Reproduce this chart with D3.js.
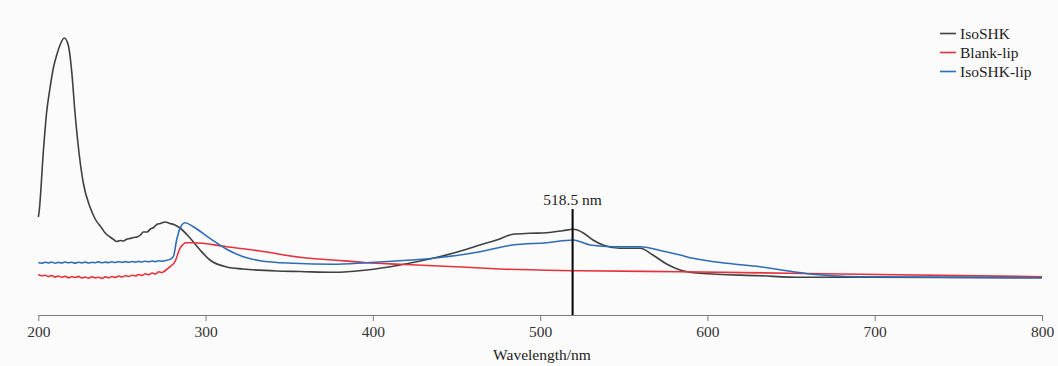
<!DOCTYPE html>
<html>
<head>
<meta charset="utf-8">
<script src="https://cdn.jsdelivr.net/npm/d3@7"></script>
<style>
  body { margin: 0; background: #fbfbfb; }
</style>
</head>
<body>
<svg width="1058" height="366"></svg>
<script>
const svg = d3.select('svg');
const serif = '"Liberation Serif", "Times New Roman", "DejaVu Serif", serif';

// wavelength (nm) / absorbance
const isoWl = [200, 200.4, 203, 205, 207, 209, 211, 213, 215.5, 217.9, 220, 221.9, 224.5, 226.9, 230.9, 234, 237.9, 240, 242.9, 245, 246.9, 249, 251, 252.5, 254.8, 257, 259, 261, 262.8, 265, 267, 269, 270.8, 273, 275.7, 278.7, 281, 284.7, 290.7, 296.7, 302.6, 312.6, 322.4, 342.5, 356.4, 376.2, 396.3, 416.2, 435.9, 456.1, 464, 474, 483.7, 493.9, 503.9, 513.6, 519.8, 525.6, 531.6, 537.5, 547.7, 559.7, 567.4, 575.6, 583.6, 595.5, 631.4, 655.3, 691.2, 800];
const isoAbs = [0.98, 1.02, 1.63, 2.03, 2.27, 2.47, 2.60, 2.70, 2.77, 2.70, 2.43, 2.03, 1.60, 1.32, 1.08, 0.96, 0.87, 0.82, 0.78, 0.755, 0.735, 0.745, 0.74, 0.755, 0.765, 0.775, 0.78, 0.80, 0.83, 0.83, 0.86, 0.875, 0.905, 0.915, 0.93, 0.915, 0.905, 0.87, 0.77, 0.65, 0.55, 0.48, 0.46, 0.44, 0.435, 0.427, 0.45, 0.50, 0.567, 0.657, 0.70, 0.75, 0.807, 0.817, 0.823, 0.843, 0.857, 0.823, 0.75, 0.70, 0.667, 0.667, 0.60, 0.51, 0.45, 0.417, 0.393, 0.377, 0.377, 0.373];

const blankWl = [200, 202, 204, 206, 208, 210, 212, 214, 216, 218, 220, 222, 224, 226, 228, 230, 232, 234, 236, 238, 240, 242, 244, 246, 248, 250, 252, 254, 256, 258, 260, 262, 264, 266, 268, 270, 272, 274, 276, 278.7, 281.7, 284.7, 288.7, 292.6, 312.6, 332.5, 356.4, 376.2, 396.3, 416.2, 456.1, 476, 523.8, 583.6, 691.2, 800];
const blankAbs = [0.405, 0.392, 0.398, 0.385, 0.395, 0.380, 0.390, 0.378, 0.388, 0.372, 0.383, 0.375, 0.386, 0.370, 0.380, 0.368, 0.382, 0.372, 0.378, 0.366, 0.381, 0.372, 0.385, 0.376, 0.390, 0.380, 0.393, 0.385, 0.398, 0.390, 0.405, 0.395, 0.412, 0.402, 0.420, 0.410, 0.432, 0.425, 0.445, 0.483, 0.533, 0.667, 0.723, 0.723, 0.683, 0.64, 0.577, 0.55, 0.523, 0.507, 0.477, 0.46, 0.443, 0.433, 0.407, 0.383];

const lipWl = [200, 202, 204, 206, 208, 210, 212, 214, 216, 218, 220, 222, 224, 226, 228, 230, 232, 234, 236, 238, 240, 242, 244, 246, 248, 250, 252, 254, 256, 258, 260, 262, 264, 266, 268, 270, 272, 274, 276, 278.7, 280.7, 282.7, 284.7, 287.7, 292.7, 302.6, 312.6, 322.5, 332.5, 352.4, 376.2, 396.3, 416.2, 435.9, 456.1, 464, 483.7, 503.9, 519.8, 529.8, 543.6, 559.7, 571.7, 583.6, 591.4, 611.5, 631.4, 651.1, 661.3, 691.2, 800];
const lipAbs = [0.525, 0.518, 0.528, 0.520, 0.530, 0.518, 0.526, 0.520, 0.530, 0.522, 0.528, 0.517, 0.527, 0.521, 0.529, 0.520, 0.527, 0.523, 0.531, 0.522, 0.529, 0.524, 0.532, 0.525, 0.533, 0.526, 0.534, 0.527, 0.535, 0.529, 0.536, 0.530, 0.538, 0.532, 0.540, 0.534, 0.542, 0.537, 0.545, 0.556, 0.583, 0.75, 0.867, 0.923, 0.883, 0.767, 0.657, 0.583, 0.543, 0.517, 0.507, 0.523, 0.543, 0.567, 0.61, 0.633, 0.70, 0.723, 0.75, 0.70, 0.683, 0.683, 0.645, 0.60, 0.567, 0.517, 0.483, 0.433, 0.41, 0.383, 0.373];

const seriesNames = ['IsoSHK', 'Blank-lip', 'IsoSHK-lip'];
const seriesColors = ['#404040', '#e8303a', '#2f6cb8'];
const xTicks = [200, 300, 400, 500, 600, 700, 800];
const markWl = 518.5;

const toPoints = (wl, ab) => wl.map((w, i) => ({ w: w, a: ab[i] }));
const series = [
  toPoints(isoWl, isoAbs),
  toPoints(blankWl, blankAbs),
  toPoints(lipWl, lipAbs)
];

// scales
const x = d3.scaleLinear().domain([200, 800]).range([38.3, 1042]);
const y = d3.scaleLinear().domain([0, 3]).range([315, 15]);

// axis
const xAxis = svg.append('g')
  .attr('transform', 'translate(0,315)')
  .call(d3.axisBottom(x).tickValues(xTicks).tickSize(6).tickSizeOuter(0));
xAxis.select('.domain').attr('stroke', '#7a7a7a');
xAxis.selectAll('.tick line').attr('stroke', '#7a7a7a');
xAxis.selectAll('.tick text')
  .style('font-family', serif)
  .style('font-size', '15.5px')
  .attr('fill', '#333')
  .attr('y', 10)
  .attr('dy', '0.8em');

svg.append('text')
  .attr('x', 542)
  .attr('y', 360)
  .attr('text-anchor', 'middle')
  .style('font-family', serif)
  .style('font-size', '15.5px')
  .attr('fill', '#222')
  .text('Wavelength/nm');

// lines
const line = d3.line()
  .x(d => x(d.w))
  .y(d => y(d.a))
  .curve(d3.curveMonotoneX);

svg.selectAll('.spec').data(series)
  .enter()
  .append('path')
  .attr('class', 'spec')
  .attr('d', line)
  .attr('fill', 'none')
  .attr('stroke', (d, i) => seriesColors[i])
  .attr('stroke-width', 1.6);

// 518.5 nm marker
svg.append('line')
  .attr('x1', x(markWl) + 1.5).attr('x2', x(markWl) + 1.5)
  .attr('y1', 209).attr('y2', 315)
  .attr('stroke', '#000')
  .attr('stroke-width', 2);

svg.append('text')
  .attr('x', x(markWl) + 1.5)
  .attr('y', 205)
  .attr('text-anchor', 'middle')
  .style('font-family', serif)
  .style('font-size', '15.5px')
  .attr('fill', '#222')
  .text(markWl + ' nm');

// legend
const legend = svg.append('g').attr('transform', 'translate(940,33.5)');
seriesNames.forEach((name, i) => {
  const row = legend.append('g').attr('transform', `translate(0,${i * 19})`);
  row.append('line')
    .attr('x1', 0).attr('x2', 16)
    .attr('stroke', seriesColors[i])
    .attr('stroke-width', 1.6);
  row.append('text')
    .attr('x', 20)
    .attr('y', 5)
    .style('font-family', serif)
    .style('font-size', '15.5px')
    .attr('fill', '#222')
    .text(name);
});
</script>
</body>
</html>
